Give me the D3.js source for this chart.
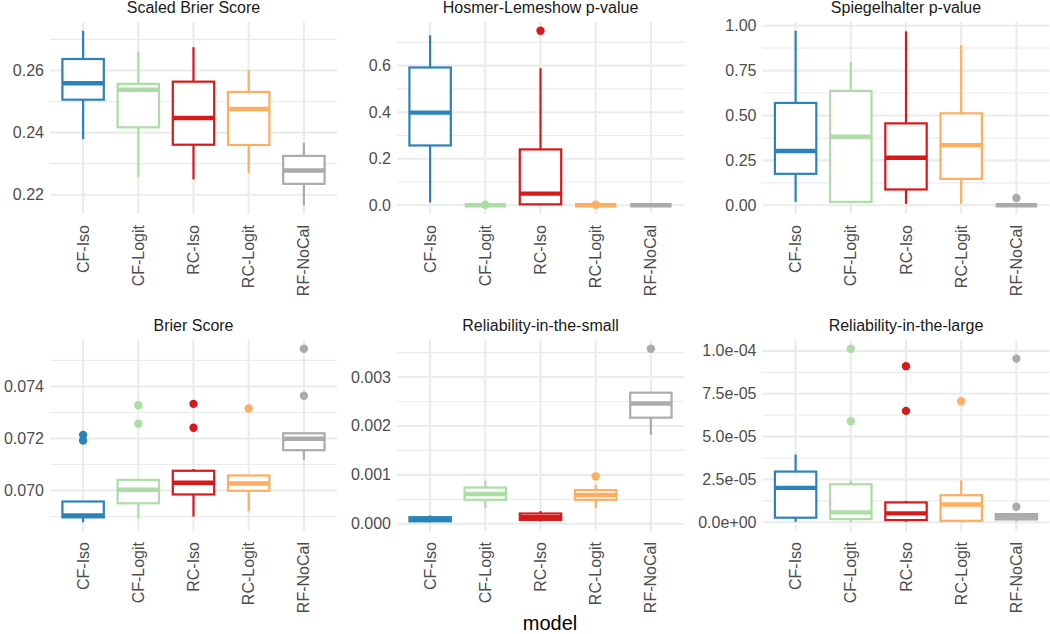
<!DOCTYPE html>
<html>
<head>
<meta charset="utf-8">
<script src="https://cdn.jsdelivr.net/npm/d3@7"></script>
<style>
  html, body { margin: 0; padding: 0; background: #ffffff; }
  svg { display: block; font-family: "Liberation Sans", Arial, Helvetica, sans-serif; }
</style>
</head>
<body>
<svg id="chart" width="1050" height="634"></svg>
<script>
// ---------------- data ----------------
const models = ["CF-Iso", "CF-Logit", "RC-Iso", "RC-Logit", "RF-NoCal"];
const modelColors = ["#2B83BA", "#ABDDA4", "#D7191C", "#FDAE61", "#ABABAB"];
const panelTitles = ["Scaled Brier Score", "Hosmer-Lemeshow p-value", "Spiegelhalter p-value",
                     "Brier Score", "Reliability-in-the-small", "Reliability-in-the-large"];

// box stats per model: [lower whisker, Q1, median, Q3, upper whisker]
const scaledBrierStats = [
  [0.2379, 0.2506, 0.2559, 0.2637, 0.2728],
  [0.2256, 0.2417, 0.2538, 0.2557, 0.2661],
  [0.2249, 0.2361, 0.2447, 0.2564, 0.2675],
  [0.2270, 0.2360, 0.2476, 0.2531, 0.2601],
  [0.2166, 0.2235, 0.2278, 0.2325, 0.2367]
];
const scaledBrierOutliers = [[], [], [], [], []];

const hosmerStats = [
  [0.012, 0.257, 0.398, 0.592, 0.730],
  [0.000, 0.000, 0.000, 0.000, 0.000],
  [0.000, 0.004, 0.050, 0.240, 0.589],
  [0.000, 0.000, 0.000, 0.000, 0.000],
  [0.000, 0.000, 0.000, 0.000, 0.000]
];
const hosmerOutliers = [[], [0.002], [0.750], [0.002], []];

const spiegelStats = [
  [0.019, 0.175, 0.302, 0.570, 0.972],
  [0.012, 0.019, 0.382, 0.637, 0.796],
  [0.008, 0.088, 0.265, 0.456, 0.969],
  [0.008, 0.147, 0.335, 0.512, 0.892],
  [0.000, 0.000, 0.000, 0.000, 0.000]
];
const spiegelOutliers = [[], [], [], [], [0.041]];

const brierStats = [
  [0.06878, 0.06897, 0.06904, 0.06958, 0.06958],
  [0.06891, 0.06951, 0.07003, 0.07041, 0.07041],
  [0.06900, 0.06985, 0.07030, 0.07076, 0.07083],
  [0.06920, 0.06999, 0.07027, 0.07058, 0.07058],
  [0.07118, 0.07155, 0.07199, 0.07220, 0.07220]
];
const brierOutliers = [[0.07214, 0.07192], [0.07328, 0.07257], [0.07333, 0.07241], [0.07315], [0.07545, 0.07364]];

const relSmallStats = [
  [0.00003, 0.00005, 0.00008, 0.000135, 0.00017],
  [0.00032, 0.00049, 0.00061, 0.00074, 0.00088],
  [0.00005, 0.00008, 0.000135, 0.00021, 0.00026],
  [0.00032, 0.00049, 0.00059, 0.00069, 0.00079],
  [0.00182, 0.00217, 0.00246, 0.00268, 0.00268]
];
const relSmallOutliers = [[], [], [], [0.00097], [0.00358]];

const relLargeStats = [
  [0.03e-5, 0.27e-5, 2.01e-5, 2.96e-5, 3.95e-5],
  [0.03e-5, 0.19e-5, 0.58e-5, 2.22e-5, 2.45e-5],
  [0.03e-5, 0.13e-5, 0.52e-5, 1.16e-5, 1.25e-5],
  [0.00e-5, 0.09e-5, 1.04e-5, 1.58e-5, 2.45e-5],
  [0.06e-5, 0.17e-5, 0.33e-5, 0.48e-5, 0.48e-5]
];
const relLargeOutliers = [[], [10.13e-5, 5.90e-5], [9.11e-5, 6.50e-5], [7.06e-5], [9.55e-5, 0.91e-5]];

// tick labels per panel
const scaledBrierTicks = [0.22, 0.24, 0.26];
const hosmerTicks = [0.0, 0.2, 0.4, 0.6];
const spiegelTicks = [0.00, 0.25, 0.50, 0.75, 1.00];
const brierTicks = [0.070, 0.072, 0.074];
const relSmallTicks = [0.000, 0.001, 0.002, 0.003];
const relLargeTicks = [0, 2.5e-5, 5.0e-5, 7.5e-5, 1.0e-4];

const scaledBrierLabels = ["0.22", "0.24", "0.26"];
const hosmerLabels = ["0.0", "0.2", "0.4", "0.6"];
const spiegelLabels = ["0.00", "0.25", "0.50", "0.75", "1.00"];
const brierLabels = ["0.070", "0.072", "0.074"];
const relSmallLabels = ["0.000", "0.001", "0.002", "0.003"];
const relLargeLabels = ["0.0e+00", "2.5e-05", "5.0e-05", "7.5e-05", "1.0e-04"];

// ---------------- layout ----------------
const colX = [[50, 337], [397, 684], [762.5, 1049.5]];
const rowY = [[22, 214], [340, 531]];

const panels = [
  { stats: scaledBrierStats, out: scaledBrierOutliers, ticks: scaledBrierTicks, labels: scaledBrierLabels },
  { stats: hosmerStats, out: hosmerOutliers, ticks: hosmerTicks, labels: hosmerLabels },
  { stats: spiegelStats, out: spiegelOutliers, ticks: spiegelTicks, labels: spiegelLabels },
  { stats: brierStats, out: brierOutliers, ticks: brierTicks, labels: brierLabels },
  { stats: relSmallStats, out: relSmallOutliers, ticks: relSmallTicks, labels: relSmallLabels },
  { stats: relLargeStats, out: relLargeOutliers, ticks: relLargeTicks, labels: relLargeLabels }
];

const svg = d3.select("#chart");
const gridColor = "#EBEBEB";
const tickColor = "#4D4D4D";
const fs = 16;

panels.forEach((p, i) => {
  p.title = panelTitles[i];
  const [x0, x1] = colX[i % 3];
  const [y0, y1] = rowY[Math.floor(i / 3)];
  const g = svg.append("g");

  const x = d3.scalePoint().domain(models).range([x0, x1]).padding(0.6);
  const step = x.step();
  const bw = step * 0.75;

  const all = [];
  p.stats.forEach(s => all.push(...s));
  p.out.forEach(o => all.push(...o));
  let mn = d3.min(all), mx = d3.max(all);
  const pad = (mx - mn) * 0.05;
  const y = d3.scaleLinear().domain([mn - pad, mx + pad]).range([y1, y0]);

  // minor grid
  const t = p.ticks, d = t[1] - t[0];
  const minor = [];
  for (let k = -1; k < t.length; k++) {
    const v = t[0] + (k + 0.5) * d;
    if (v >= y.domain()[0] && v <= y.domain()[1]) minor.push(v);
  }
  g.selectAll(".minor").data(minor).enter().append("line")
    .attr("x1", x0).attr("x2", x1)
    .attr("y1", v => y(v)).attr("y2", v => y(v))
    .attr("stroke", gridColor).attr("stroke-width", 1.1);
  // major horizontal
  g.selectAll(".major").data(t).enter().append("line")
    .attr("x1", x0).attr("x2", x1)
    .attr("y1", v => y(v)).attr("y2", v => y(v))
    .attr("stroke", gridColor).attr("stroke-width", 2.1);
  // major vertical
  g.selectAll(".vmajor").data(models).enter().append("line")
    .attr("x1", m => x(m)).attr("x2", m => x(m))
    .attr("y1", y0).attr("y2", y1)
    .attr("stroke", gridColor).attr("stroke-width", 2.1);

  // y tick labels
  g.selectAll(".ylab").data(t).enter().append("text")
    .attr("x", x0 - 6).attr("y", v => y(v))
    .attr("text-anchor", "end").attr("dominant-baseline", "central")
    .attr("font-size", fs).attr("fill", tickColor)
    .text((v, k) => p.labels[k]);

  // x tick labels (rotated)
  g.selectAll(".xlab").data(models).enter().append("text")
    .attr("transform", m => `translate(${x(m)},${y1 + 11}) rotate(-90)`)
    .attr("text-anchor", "end").attr("dominant-baseline", "central")
    .attr("font-size", fs).attr("fill", tickColor)
    .text(m => m);

  // title
  g.append("text")
    .attr("x", (x0 + x1) / 2).attr("y", y0 - 9.5)
    .attr("text-anchor", "middle").attr("font-size", fs).attr("fill", "#1A1A1A")
    .text(p.title);

  // boxes
  models.forEach((m, k) => {
    const s = p.stats[k];
    const c = modelColors[k];
    const cx = x(m);
    const bg = g.append("g");
    bg.append("line").attr("x1", cx).attr("x2", cx).attr("y1", y(s[3])).attr("y2", y(s[4]))
      .attr("stroke", c).attr("stroke-width", 2.2);
    bg.append("line").attr("x1", cx).attr("x2", cx).attr("y1", y(s[1])).attr("y2", y(s[0]))
      .attr("stroke", c).attr("stroke-width", 2.2);
    bg.append("rect").attr("x", cx - bw / 2).attr("width", bw)
      .attr("y", y(s[3])).attr("height", Math.max(0, y(s[1]) - y(s[3])))
      .attr("fill", "#ffffff").attr("stroke", c).attr("stroke-width", 2.2);
    bg.append("line").attr("x1", cx - bw / 2).attr("x2", cx + bw / 2)
      .attr("y1", y(s[2])).attr("y2", y(s[2]))
      .attr("stroke", c).attr("stroke-width", 4.4);
    bg.selectAll("circle").data(p.out[k]).enter().append("circle")
      .attr("cx", cx).attr("cy", v => y(v)).attr("r", 4.2).attr("fill", c);
  });
});

// axis title
svg.append("text").attr("x", 550).attr("y", 630)
  .attr("text-anchor", "middle").attr("font-size", 20).attr("fill", "#000000")
  .text("model");
</script>
</body>
</html>
